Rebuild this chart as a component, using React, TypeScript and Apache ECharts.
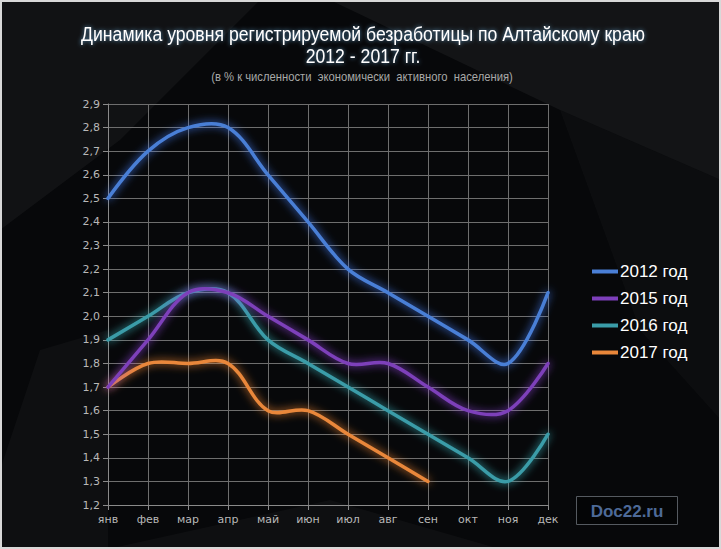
import React, { useEffect, useRef } from "react";
import * as echarts from "echarts";

const months = ["янв", "фев", "мар", "апр", "май", "июн", "июл", "авг", "сен", "окт", "ноя", "дек"];
const s2012 = [2.5, 2.7, 2.8, 2.8, 2.6, 2.4, 2.2, 2.1, 2.0, 1.9, 1.8, 2.1];
const s2015 = [1.7, 1.9, 2.1, 2.1, 2.0, 1.9, 1.8, 1.8, 1.7, 1.6, 1.6, 1.8];
const s2016 = [1.9, 2.0, 2.1, 2.1, 1.9, 1.8, 1.7, 1.6, 1.5, 1.4, 1.3, 1.5];
const s2017 = [1.7, 1.8, 1.8, 1.8, 1.6, 1.6, 1.5, 1.4, 1.3];
const seriesNames = ["2012 год", "2015 год", "2016 год", "2017 год"];
const seriesColors = ["#4a7fd6", "#7d3fba", "#3a9ca8", "#e9873a"];
const glowColors = ["rgba(70,130,255,0.95)", "rgba(150,70,230,0.95)", "rgba(60,190,200,0.95)", "rgba(255,140,50,0.95)"];
const titleFont = "'Liberation Sans', Arial, sans-serif";

export default function App() {
  const ref = useRef<HTMLDivElement>(null);
  useEffect(() => {
    const chart = echarts.init(ref.current!, null, { renderer: "svg" });
    const data = [s2012, s2015, s2016, s2017];
    chart.setOption({
      animation: false,
      backgroundColor: "#07080a",
      graphic: [
        { type: "polygon", silent: true, z: -10, shape: { points: [[0, 0], [260, 0], [120, 140], [0, 230]] }, style: { fill: "rgba(255,255,255,0.045)" } },
        { type: "polygon", silent: true, z: -10, shape: { points: [[330, 0], [721, 0], [721, 180], [560, 110]] }, style: { fill: "rgba(255,255,255,0.05)" } },
        { type: "polygon", silent: true, z: -10, shape: { points: [[560, 110], [721, 180], [721, 420], [640, 330]] }, style: { fill: "rgba(255,255,255,0.025)" } },
        { type: "polygon", silent: true, z: -10, shape: { points: [[40, 350], [108, 330], [108, 549], [0, 549], [0, 470]] }, style: { fill: "rgba(255,255,255,0.03)" } },
        { type: "polygon", silent: true, z: -10, shape: { points: [[108, 549], [330, 500], [500, 549]] }, style: { fill: "rgba(255,255,255,0.03)" } },
        {
          type: "rect",
          silent: true,
          z: -9,
          shape: { x: 1, y: 1, width: 719, height: 547 },
          style: { fill: "none", stroke: "#d8d8d8", lineWidth: 2 },
        },
        {
          type: "text",
          silent: true,
          x: 363,
          y: 33,
          scaleX: 0.84,
          style: {
            text: "Динамика уровня регистрируемой безработицы по Алтайскому краю",
            fill: "#ffffff",
            font: `21px ${titleFont}`,
            align: "center",
            verticalAlign: "middle",
            textShadowColor: "rgba(120,200,255,0.7)",
            textShadowBlur: 4,
          },
        },
        {
          type: "text",
          silent: true,
          x: 363,
          y: 55,
          scaleX: 0.84,
          style: {
            text: "2012 - 2017 гг.",
            fill: "#ffffff",
            font: `21px ${titleFont}`,
            align: "center",
            verticalAlign: "middle",
            textShadowColor: "rgba(120,200,255,0.7)",
            textShadowBlur: 4,
          },
        },
        {
          type: "text",
          silent: true,
          x: 362,
          y: 77,
          scaleX: 0.9,
          style: {
            text: "(в % к численности  экономически  активного  населения)",
            fill: "#a8a8a8",
            font: `12.5px ${titleFont}`,
            align: "center",
            verticalAlign: "middle",
          },
        },
        {
          type: "rect",
          silent: true,
          shape: { x: 576.5, y: 496.5, width: 101, height: 28 },
          style: { fill: "rgba(0,0,0,0.3)", stroke: "#555a60", lineWidth: 1 },
        },
        {
          type: "text",
          silent: true,
          x: 627,
          y: 511,
          style: {
            text: "Doc22.ru",
            fill: "#4d6a98",
            font: `bold 17px ${titleFont}`,
            align: "center",
            verticalAlign: "middle",
          },
        },
      ],
      legend: {
        orient: "vertical",
        left: 587,
        top: 258,
        itemGap: 10,
        itemWidth: 26,
        itemHeight: 4,
        icon: "rect",
        data: seriesNames,
        textStyle: {
          color: "#ffffff",
          fontFamily: titleFont,
          fontSize: 17,
          padding: [0, 0, 0, -3],
        },
      },
      grid: { left: 108, right: 173, top: 104, bottom: 44 },
      xAxis: {
        type: "category",
        data: months,
        boundaryGap: false,
        axisLine: { lineStyle: { color: "#8a8a8a" } },
        axisTick: { show: true, alignWithLabel: true, lineStyle: { color: "#8a8a8a" } },
        axisLabel: { color: "#b8b8b8", fontSize: 11, margin: 9, fontFamily: "'DejaVu Sans', sans-serif" },
        splitLine: { show: true, lineStyle: { color: "#6e6e6e", width: 1 } },
      },
      yAxis: {
        type: "value",
        min: 1.2,
        max: 2.9,
        interval: 0.1,
        axisLine: { show: true, lineStyle: { color: "#8a8a8a" } },
        axisTick: { show: true, lineStyle: { color: "#8a8a8a" } },
        axisLabel: {
          color: "#b8b8b8",
          fontSize: 11,
          margin: 8,
          fontFamily: "'DejaVu Sans', sans-serif",
          formatter: (v: number) => v.toFixed(1).replace(".", ","),
        },
        splitLine: { show: true, lineStyle: { color: "#6e6e6e", width: 1 } },
      },
      series: data.map((d, i) => ({
        name: seriesNames[i],
        type: "custom",
        data: d.map((v, j) => [j, v]),
        encode: { x: 0, y: 1 },
        itemStyle: { color: seriesColors[i] },
        z: 10 - i,
        renderItem: (params: any, api: any) => {
          if (params.dataIndex !== 0) return null;
          const pts = d.map((v, j) => api.coord([j, v]));
          return {
            type: "polyline",
            shape: { points: pts, smooth: 0.35 },
            style: {
              fill: null,
              stroke: seriesColors[i],
              lineWidth: 3.5,
              lineCap: "round",
              lineJoin: "round",
              shadowColor: glowColors[i],
              shadowBlur: 8,
            },
          };
        },
      })),
    });
    return () => chart.dispose();
  }, []);
  return <div ref={ref} style={{ width: 721, height: 549, position: "absolute", left: 0, top: 0 }} />;
}
